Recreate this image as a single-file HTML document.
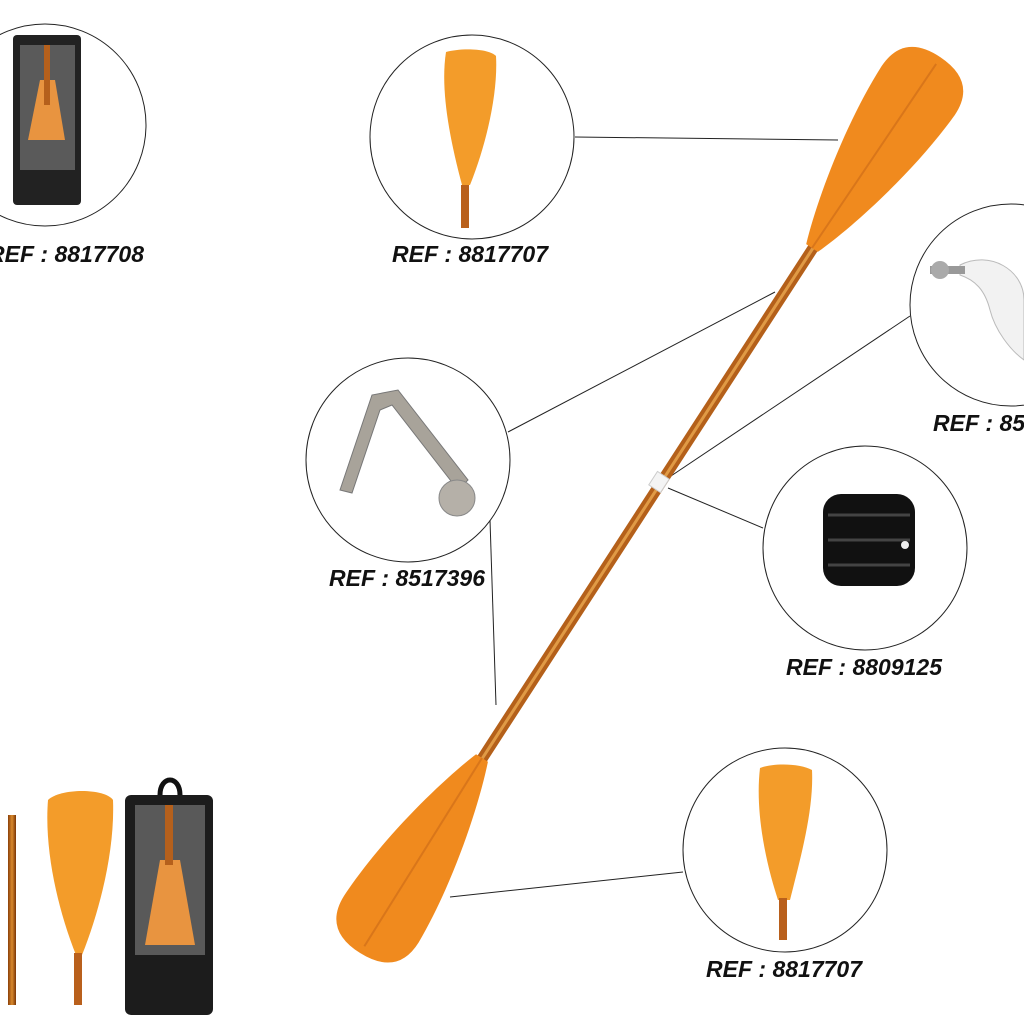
<!DOCTYPE html>
<html><head><meta charset="utf-8"><style>
html,body{margin:0;padding:0;background:#fff;}
svg{display:block}
text{font-family:"Liberation Sans",sans-serif;font-weight:bold;font-style:italic;font-size:23px;fill:#111}
</style></head><body>
<svg width="1024" height="1024" viewBox="0 0 1024 1024" xmlns="http://www.w3.org/2000/svg">
<defs>
<linearGradient id="sh" x1="0" y1="0" x2="1" y2="0"><stop offset="0" stop-color="#8a3f08"/><stop offset=".5" stop-color="#d98a2e"/><stop offset="1" stop-color="#7a3505"/></linearGradient>
</defs>
<g stroke="#222" stroke-width="1" fill="none">
<circle cx="45" cy="125" r="101"/>
<circle cx="472" cy="137" r="102"/>
<circle cx="1011" cy="305" r="101"/>
<circle cx="408" cy="460" r="102"/>
<circle cx="865" cy="548" r="102"/>
<circle cx="785" cy="850" r="102"/>
<line x1="575" y1="137" x2="838" y2="140"/>
<line x1="508" y1="432" x2="775" y2="292"/>
<line x1="910" y1="316" x2="665" y2="480"/>
<line x1="668" y1="488" x2="763" y2="528"/>
<line x1="490" y1="520" x2="496" y2="705"/>
<line x1="450" y1="897" x2="683" y2="872"/>
</g>
<line x1="478" y1="765" x2="815" y2="245" stroke="#b4601a" stroke-width="11" stroke-linecap="round"/>
<line x1="478" y1="765" x2="815" y2="245" stroke="#e09a45" stroke-width="3"/>
<rect x="652" y="474" width="14" height="16" fill="#f4f4f4" stroke="#ccc" transform="rotate(33 659 482)"/>
<g transform="translate(812 248) rotate(34)">
<path d="M-7 0 C-22 -40 -42 -120 -44 -190 Q-44 -230 0 -230 Q44 -230 44 -190 C42 -120 22 -40 7 0 Z" fill="#f08a1e"/>
<line x1="0" y1="0" x2="0" y2="-222" stroke="#d9761a" stroke-width="2"/>
</g>
<g transform="translate(482 758) rotate(212)">
<path d="M-7 0 C-22 -40 -42 -120 -44 -190 Q-44 -230 0 -230 Q44 -230 44 -190 C42 -120 22 -40 7 0 Z" fill="#f08a1e"/>
<line x1="0" y1="0" x2="0" y2="-222" stroke="#d9761a" stroke-width="2"/>
</g>
<path d="M446 52 C460 48 488 48 496 56 C498 90 488 140 470 185 L462 185 C450 140 440 90 446 52 Z" fill="#f39c2a"/>
<rect x="461" y="185" width="8" height="43" fill="#b9601c"/>
<path d="M760 768 C772 763 800 763 812 770 C814 810 800 860 790 900 L778 900 C765 860 755 810 760 768 Z" fill="#f39c2a"/>
<rect x="779" y="898" width="8" height="42" fill="#b9601c"/>
<path d="M340 490 L372 395 L398 390 L468 480 L458 490 L392 405 L380 410 L352 493 Z" fill="#a8a39a" stroke="#777"/>
<circle cx="457" cy="498" r="18" fill="#b5b0a8" stroke="#888"/>
<rect x="823" y="494" width="92" height="92" rx="18" fill="#111"/>
<path d="M828 515 H910 M828 540 H910 M828 565 H910" stroke="#444" stroke-width="3"/>
<circle cx="905" cy="545" r="4" fill="#eee"/>
<path d="M960 265 C990 250 1024 270 1024 300 L1024 360 C1010 350 995 330 990 310 C985 290 975 280 960 275 Z" fill="#f2f2f2" stroke="#bbb"/>
<rect x="930" y="266" width="35" height="8" fill="#999"/>
<circle cx="940" cy="270" r="9" fill="#aaa"/>
<rect x="13" y="35" width="68" height="170" rx="4" fill="#222"/>
<rect x="20" y="45" width="55" height="125" fill="#5a5a5a"/>
<path d="M28 140 L40 80 L55 80 L65 140 Z" fill="#e89440"/>
<rect x="44" y="45" width="6" height="60" fill="#b5601c"/>
<rect x="8" y="815" width="8" height="190" fill="url(#sh)"/>
<path d="M48 800 C60 788 105 788 113 800 C115 850 100 910 82 955 L76 955 C58 910 44 850 48 800 Z" fill="#f39c2a"/>
<rect x="74" y="953" width="8" height="52" fill="#b9601c"/>
<rect x="125" y="795" width="88" height="220" rx="6" fill="#1c1c1c"/>
<path d="M160 795 C160 775 180 775 180 795" stroke="#111" stroke-width="5" fill="none"/>
<rect x="135" y="805" width="70" height="150" fill="#595959"/>
<path d="M145 945 L160 860 L180 860 L195 945 Z" fill="#e89440"/>
<rect x="165" y="805" width="8" height="60" fill="#b5601c"/>
<text x="-12" y="262">REF : 8817708</text>
<text x="392" y="262">REF : 8817707</text>
<text x="933" y="431">REF : 8517</text>
<text x="329" y="586">REF : 8517396</text>
<text x="786" y="675">REF : 8809125</text>
<text x="706" y="977">REF : 8817707</text>
</svg>
</body></html>
